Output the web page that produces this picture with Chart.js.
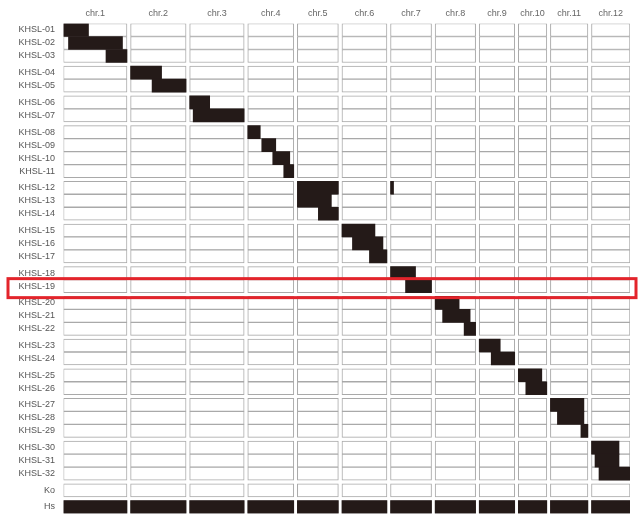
<!DOCTYPE html>
<html>
<head>
<meta charset="utf-8">
<script src="https://cdn.jsdelivr.net/npm/chart.js@4.4.1/dist/chart.umd.min.js"></script>
<style>
  html, body { margin: 0; padding: 0; background: #fff; overflow: hidden; }
  canvas { display: block; }
</style>
</head>
<body>
<canvas id="genotype" width="642" height="515"></canvas>
<script>
// 染色体名と相対長
const chromosomes = ["chr.1", "chr.2", "chr.3", "chr.4", "chr.5", "chr.6",
                     "chr.7", "chr.8", "chr.9", "chr.10", "chr.11", "chr.12"];
const chrLengths = [63.5, 55.5, 54.5, 46, 41, 45, 41, 40.5, 35.5, 28.5, 37.5, 38.5];

// 系統名とグループ（置換染色体ごと）
const lines = ["KHSL-01", "KHSL-02", "KHSL-03", "KHSL-04", "KHSL-05", "KHSL-06", "KHSL-07",
               "KHSL-08", "KHSL-09", "KHSL-10", "KHSL-11", "KHSL-12", "KHSL-13", "KHSL-14",
               "KHSL-15", "KHSL-16", "KHSL-17", "KHSL-18", "KHSL-19", "KHSL-20", "KHSL-21",
               "KHSL-22", "KHSL-23", "KHSL-24", "KHSL-25", "KHSL-26", "KHSL-27", "KHSL-28",
               "KHSL-29", "KHSL-30", "KHSL-31", "KHSL-32", "Ko", "Hs"];
const lineGroup = [0, 0, 0, 1, 1, 2, 2, 3, 3, 3, 3, 4, 4, 4, 5, 5, 5, 6, 6,
                   7, 7, 7, 8, 8, 9, 9, 10, 10, 10, 11, 11, 11, 12, 13];

// 置換断片 [系統, 染色体番号, 開始, 終了]（染色体先端からの相対位置）
const segments = [
  ["KHSL-01", 1, 0, 25], ["KHSL-02", 1, 5, 59], ["KHSL-03", 1, 42.5, 63.5],
  ["KHSL-04", 2, 0, 31], ["KHSL-05", 2, 21.5, 55.5],
  ["KHSL-06", 3, 0, 20], ["KHSL-07", 3, 3.5, 54.5],
  ["KHSL-08", 4, 0, 12.5], ["KHSL-09", 4, 14, 28], ["KHSL-10", 4, 25, 42], ["KHSL-11", 4, 36, 46],
  ["KHSL-12", 5, 0, 41], ["KHSL-12", 7, 0, 3], ["KHSL-13", 5, 0, 34], ["KHSL-14", 5, 21, 41],
  ["KHSL-15", 6, 0, 33], ["KHSL-16", 6, 10.5, 41], ["KHSL-17", 6, 27.5, 45],
  ["KHSL-18", 7, 0, 25], ["KHSL-19", 7, 15, 41],
  ["KHSL-20", 8, 0, 24], ["KHSL-21", 8, 7.5, 35], ["KHSL-22", 8, 29, 40.5],
  ["KHSL-23", 9, 0, 21], ["KHSL-24", 9, 12, 35.5],
  ["KHSL-25", 10, 0, 23.5], ["KHSL-26", 10, 7.5, 28.5],
  ["KHSL-27", 11, 0, 33.5], ["KHSL-28", 11, 7, 33.5], ["KHSL-29", 11, 30.5, 37.5],
  ["KHSL-30", 12, 0, 27.5], ["KHSL-31", 12, 3.5, 27.5], ["KHSL-32", 12, 7.5, 38.5],
];
// Hs は全染色体がドナー型
const donorLine = "Hs";
const highlightLine = "KHSL-19";

// 配置用
const CHR_GAP = 3.6;
const GROUP_GAP = 0.285;

const chrStart = [];
let acc = 0;
chrLengths.forEach((len, i) => {
  chrStart.push(acc);
  acc += len + (i < chrLengths.length - 1 ? CHR_GAP : 0);
});
const xMax = acc;
const chrCenter = chrLengths.map((len, i) => chrStart[i] + len / 2);
const rowPos = lines.map((name, i) => i + lineGroup[i] * GROUP_GAP);
const rowOf = (name) => rowPos[lines.indexOf(name)];

// 白い染色体枠
const frameData = [];
lines.forEach((name) => {
  chrLengths.forEach((len, c) => {
    frameData.push({ y: rowOf(name), x: [chrStart[c], chrStart[c] + len] });
  });
});

// 黒い置換断片
const segData = segments.map(([name, chr, s, e]) => ({
  y: rowOf(name), x: [chrStart[chr - 1] + s, chrStart[chr - 1] + e],
}));
chrLengths.forEach((len, c) => {
  segData.push({ y: rowOf(donorLine), x: [chrStart[c], chrStart[c] + len] });
});

// 赤枠プラグイン
const highlightPlugin = {
  id: "highlight",
  afterDatasetsDraw(chart) {
    const { ctx, chartArea, scales } = chart;
    const y = scales.y.getPixelForValue(rowOf(highlightLine));
    ctx.save();
    ctx.strokeStyle = "#e3242b";
    ctx.lineWidth = 3;
    ctx.strokeRect(8, y - 7.5, chartArea.right + 6 - 8, 19);
    ctx.restore();
  },
};

new Chart(document.getElementById("genotype"), {
  type: "bar",
  data: {
    datasets: [
      {
        label: "frame",
        data: frameData,
        backgroundColor: "#ffffff",
        borderColor: "#a9a9a9",
        borderWidth: 1,
        borderSkipped: false,
        barPercentage: 1,
        categoryPercentage: 1,
        grouped: false,
        order: 2,
      },
      {
        label: "segment",
        data: segData,
        backgroundColor: "#241a18",
        borderWidth: 0,
        barPercentage: 1,
        categoryPercentage: 1,
        grouped: false,
        order: 1,
      },
    ],
  },
  options: {
    indexAxis: "y",
    animation: false,
    responsive: false,
    layout: { autoPadding: false, padding: { left: 0, right: 12, top: 0, bottom: 1.5 } },
    plugins: {
      legend: { display: false },
      tooltip: { enabled: false },
    },
    scales: {
      x: {
        type: "linear",
        position: "top",
        min: 0,
        max: xMax,
        grid: { display: false, drawTicks: false },
        border: { display: false },
        afterBuildTicks: (scale) => {
          scale.ticks = chrCenter.map((v) => ({ value: v }));
        },
        afterFit: (scale) => {
          scale.height = 23.5;
          scale.paddingLeft = 0;
          scale.paddingRight = 0;
        },
        ticks: {
          autoSkip: false,
          maxRotation: 0,
          padding: 5,
          color: "#666",
          font: { family: "Liberation Sans", size: 9 },
          callback: (v, i) => chromosomes[i],
        },
      },
      y: {
        type: "linear",
        reverse: true,
        offset: false,
        min: -0.5,
        max: rowPos[rowPos.length - 1] + 0.5,
        grid: { display: false, drawTicks: false },
        border: { display: false },
        afterBuildTicks: (scale) => {
          scale.ticks = rowPos.map((v) => ({ value: v }));
        },
        afterFit: (scale) => {
          scale.width = 63.5;
          scale.paddingTop = 0;
          scale.paddingBottom = 0;
        },
        ticks: {
          autoSkip: false,
          padding: 8.5,
          color: "#555",
          font: { family: "Liberation Sans", size: 9 },
          callback: (v, i) => lines[i],
        },
      },
    },
  },
  plugins: [highlightPlugin],
});
</script>
</body>
</html>
